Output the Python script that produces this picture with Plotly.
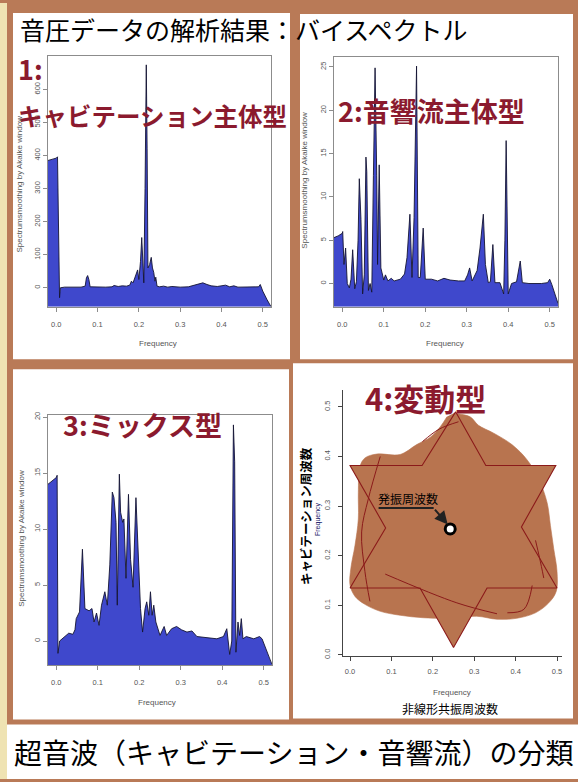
import plotly.graph_objects as go

W, H = 578, 782

# ---------------- data ----------------
freq1 = [-0.020, -0.010, 0.000, 0.003, 0.005, 0.006, 0.008, 0.010, 0.020, 0.060, 0.070, 0.073, 0.076,
         0.079, 0.082, 0.120, 0.135, 0.140, 0.150, 0.160, 0.170, 0.178, 0.182, 0.186, 0.190, 0.194,
         0.197, 0.200, 0.204, 0.207, 0.210, 0.212, 0.215, 0.218, 0.220, 0.222, 0.226, 0.230, 0.233,
         0.236, 0.239, 0.241, 0.244, 0.250, 0.260, 0.270, 0.280, 0.300, 0.320, 0.335, 0.345, 0.355,
         0.365, 0.375, 0.390, 0.410, 0.420, 0.430, 0.440, 0.470, 0.490, 0.494, 0.500, 0.510, 0.520]
spec1 = [385, 388, 392, 396, 150, 20, -30, 0, 2, 2, 5, 30, 37,
         25, 3, 2, 3, 7, 4, 6, 5, 8, 20, 15, 30, 45,
         54, 25, 80, 152, 60, 15, 300, 674, 420, 60, 70, 92, 60,
         47, 20, 32, 5, 3, 5, 2, 4, 2, 3, 8, 12, 15,
         10, 6, 4, 8, 3, 6, 2, 2, 3, 10, -10, -35, -57]

freq2 = [-0.020, -0.010, 0.000, 0.001, 0.004, 0.008, 0.012, 0.017, 0.021, 0.025, 0.030, 0.034, 0.038,
         0.041, 0.045, 0.049, 0.053, 0.057, 0.059, 0.063, 0.067, 0.071, 0.075, 0.079, 0.083, 0.085,
         0.089, 0.093, 0.100, 0.104, 0.110, 0.118, 0.125, 0.140, 0.150, 0.156, 0.163, 0.168, 0.173,
         0.179, 0.183, 0.188, 0.195, 0.200, 0.215, 0.230, 0.245, 0.260, 0.280, 0.295, 0.302, 0.307,
         0.313, 0.325, 0.332, 0.340, 0.345, 0.352, 0.357, 0.363, 0.368, 0.380, 0.389, 0.392, 0.395,
         0.400, 0.408, 0.420, 0.429, 0.434, 0.450, 0.480, 0.495, 0.500, 0.505, 0.520]
spec2 = [5.3, 5.5, 5.8, 6.0, 2.2, 4.1, 0.0, -0.5, 0.5, 3.9, -0.6, 0.2, 5.0,
         12.1, 7.4, -1.2, 1.0, 14.6, 12.9, -0.8, 0.0, -1.0, 12.5, 24.9, 12.5, 2.2,
         13.7, 1.8, 0.4, 1.0, 0.3, 0.6, 0.3, 0.5, 1.1, 3.0, 8.0, 0.7, 7.6,
         25.1, 0.7, 0.7, 6.4, 0.5, 0.5, 0.3, 0.6, 0.4, 0.3, 0.3, 1.0, 1.8,
         0.3, 1.5, 4.1, 8.0, 2.2, 0.1, 0.2, 4.5, 0.1, 0.1, -1.2, 5.0, 16.5,
         -1.2, 0.0, 0.2, 2.6, 0.1, 0.0, 0.0, 0.1, 0.5, -0.1, -2.3]

freq3 = [-0.020, -0.010, 0.000, 0.002, 0.003, 0.004, 0.008, 0.020, 0.030, 0.040, 0.045, 0.048, 0.056,
         0.063, 0.069, 0.074, 0.079, 0.086, 0.091, 0.097, 0.103, 0.109, 0.117, 0.123, 0.129, 0.135,
         0.139, 0.144, 0.147, 0.152, 0.155, 0.160, 0.163, 0.168, 0.174, 0.179, 0.185, 0.192, 0.196,
         0.199, 0.203, 0.208, 0.214, 0.218, 0.223, 0.227, 0.231, 0.235, 0.240, 0.250, 0.260, 0.266,
         0.278, 0.290, 0.302, 0.315, 0.327, 0.339, 0.363, 0.387, 0.403, 0.411, 0.418, 0.423, 0.427,
         0.430, 0.433, 0.438, 0.442, 0.446, 0.450, 0.458, 0.476, 0.490, 0.496, 0.520]
spec3 = [14.0, 14.3, 14.6, 14.8, 5.0, -1.1, 0.0, 0.4, 0.7, 0.6, 1.0, 2.0, 2.6,
         8.2, 2.9, 2.8, 2.7, 2.9, 1.7, 2.5, 1.4, 3.2, 4.4, 3.2, 6.8, 13.3,
         12.8, 10.6, 3.2, 14.9, 11.5, 10.6, 10.9, 5.6, 13.1, 7.3, 4.8, 12.8, 8.5,
         6.5, 2.9, 0.8, 2.9, 3.5, 2.3, 4.4, 2.3, 3.2, 1.7, 0.5, 1.3, 0.5,
         1.1, 1.3, 1.0, 0.8, 0.9, 0.4, 0.3, 0.2, 0.4, 1.1, -1.2, 0.0, 19.3,
         16.0, -1.0, 1.7, 0.5, 2.0, 0.2, 0.4, 0.2, 0.4, 0.2, -2.1]

freq_ticks = [0, 0.1, 0.2, 0.3, 0.4, 0.5]
ytick1 = [0, 100, 200, 300, 400, 500, 600]
ytick2 = [0, 5, 10, 15, 20, 25]
ytick3 = [0, 5, 10, 15, 20]
ytick4 = [0, 0.1, 0.2, 0.3, 0.4, 0.5]

# panel 4 : variation type (nonlinear resonance freq vs cavitation freq)
blob_x = [0.250, 0.290, 0.310, 0.347, 0.391, 0.427, 0.456, 0.476, 0.484, 0.492, 0.500, 0.498, 0.480,
          0.448, 0.403, 0.355, 0.306, 0.242, 0.177, 0.121, 0.073, 0.036, 0.012, 0.000, 0.002, 0.012,
          0.020, 0.020, 0.024, 0.036, 0.065, 0.121, 0.161, 0.194, 0.218, 0.234]
blob_y = [0.487, 0.480, 0.463, 0.447, 0.424, 0.394, 0.354, 0.307, 0.261, 0.214, 0.168, 0.128, 0.105,
          0.085, 0.074, 0.072, 0.078, 0.074, 0.075, 0.080, 0.088, 0.102, 0.118, 0.141, 0.175, 0.221,
          0.274, 0.327, 0.380, 0.397, 0.405, 0.404, 0.424, 0.439, 0.460, 0.480]
star_x = [0.255, 0.328, 0.497, 0.414, 0.500, 0.331, 0.250, 0.169, 0.000, 0.086, 0.000, 0.174, 0.255]
star_y = [0.490, 0.382, 0.382, 0.258, 0.135, 0.135, 0.015, 0.135, 0.135, 0.256, 0.382, 0.382, 0.490]
stroke_a_x = [0.085, 0.258, 0.355]
stroke_a_y = [0.163, 0.105, 0.083]
stroke_b_x = [0.073, 0.044, 0.028, 0.036, 0.048]
stroke_b_y = [0.400, 0.314, 0.248, 0.168, 0.108]
stroke_c_x = [0.448, 0.458, 0.468]
stroke_c_y = [0.231, 0.195, 0.155]
stroke_d_x = [0.175, 0.215, 0.262]
stroke_d_y = [0.430, 0.455, 0.470]
stroke_e_x = [0.380, 0.420, 0.440]
stroke_e_y = [0.085, 0.092, 0.140]
osc_x = [0.242]
osc_y = [0.254]
label_line_x = [0.069, 0.202]
label_line_y = [0.296, 0.296]

# ---------------- styling ----------------
BROWN = "#B97A57"
CREAM = "#EFE3B2"
BLUE = "#3F48CC"
CURVE = "#141432"
DARKRED = "#8B1A2E"
STAR_FILL = "#B8744F"
STAR_LINE = "#8B1A1A"
TICK_FONT = dict(family="Liberation Sans, Arial", size=7.5, color="#555555")
JP = "Noto Sans CJK JP"


def px(x):
    return x / W


def py(y):
    return 1 - y / H


R1 = dict(x=[-0.02, 0.52], y=[-57, 702])
R2 = dict(x=[-0.02, 0.52], y=[-2.67, 26.2])
R3 = dict(x=[-0.02, 0.52], y=[-2.13, 20.2])
R4 = dict(x=[-0.017, 0.512], y=[-0.002, 0.534])

fig = go.Figure()


def add_spectrum(freq, spec, yrange, xa, ya):
    ybot = yrange[0]
    fig.add_trace(go.Scatter(
        x=[freq[0]] + freq + [freq[-1]], y=[ybot] + spec + [ybot],
        fill="toself", fillcolor=BLUE, mode="lines", line=dict(width=0, color=BLUE),
        xaxis=xa, yaxis=ya, hoverinfo="skip", showlegend=False))
    fig.add_trace(go.Scatter(
        x=freq, y=spec, mode="lines", line=dict(width=0.9, color=CURVE),
        xaxis=xa, yaxis=ya, showlegend=False))


add_spectrum(freq1, spec1, R1["y"], "x", "y")
add_spectrum(freq2, spec2, R2["y"], "x2", "y2")
add_spectrum(freq3, spec3, R3["y"], "x3", "y3")

# panel 4
fig.add_trace(go.Scatter(x=blob_x, y=blob_y, fill="toself", fillcolor=STAR_FILL, mode="lines",
                         line=dict(width=0.6, color=STAR_FILL, shape="spline"), xaxis="x4", yaxis="y4",
                         showlegend=False, hoverinfo="skip"))
fig.add_trace(go.Scatter(x=star_x, y=star_y, fill="toself", fillcolor=STAR_FILL, mode="lines",
                         line=dict(width=1.1, color=STAR_LINE), xaxis="x4", yaxis="y4",
                         showlegend=False, hoverinfo="skip"))
for sx, sy in [(stroke_a_x, stroke_a_y), (stroke_b_x, stroke_b_y), (stroke_c_x, stroke_c_y),
               (stroke_d_x, stroke_d_y), (stroke_e_x, stroke_e_y)]:
    fig.add_trace(go.Scatter(x=sx, y=sy, mode="lines", line=dict(width=1, color=STAR_LINE, shape="spline"),
                             xaxis="x4", yaxis="y4", showlegend=False, hoverinfo="skip"))
fig.add_trace(go.Scatter(x=label_line_x, y=label_line_y, mode="lines", line=dict(width=2, color="#222222"),
                         xaxis="x4", yaxis="y4", showlegend=False, hoverinfo="skip"))
fig.add_trace(go.Scatter(x=osc_x, y=osc_y, mode="markers",
                         marker=dict(size=10, color="white", line=dict(width=3, color="black")),
                         xaxis="x4", yaxis="y4", showlegend=False))

# ---------------- axes ----------------
def box_axes(n, xdom, ydom, r, yt, box=True, xstand=6, ystand=0):
    sfx = "" if n == 1 else str(n)
    lc = "#8C8C8C" if box else "#444444"
    common = dict(showgrid=False, zeroline=False, showline=True, mirror=box, linecolor=lc, linewidth=1,
                  ticks="outside", ticklen=4, tickcolor=lc, tickfont=TICK_FONT)
    fig.update_layout(**{
        "xaxis" + sfx: dict(domain=xdom, range=r["x"], tickvals=freq_ticks, tickformat=".1f",
                            anchor="y" + sfx, ticklabelstandoff=xstand, **common),
        "yaxis" + sfx: dict(domain=ydom, range=r["y"], tickvals=yt, tickangle=-90,
                            tickformat=".1f" if n == 4 else "d",
                            anchor="x" + sfx, ticklabelstandoff=ystand, **common),
    })


box_axes(1, [px(48), px(271)], [py(306), py(53)], R1, ytick1)
box_axes(2, [px(334), px(558)], [py(306), py(54)], R2, ytick2)
box_axes(3, [px(48), px(272)], [py(667), py(415)], R3, ytick3)
box_axes(4, [px(343), px(562)], [py(658), py(390)], R4, ytick4, box=False, xstand=4, ystand=5)

# ---------------- background panels ----------------
shapes = [
    dict(type="rect", xref="paper", yref="paper", x0=0, x1=px(7), y0=0, y1=1,
         fillcolor=CREAM, line=dict(width=0), layer="below"),
    dict(type="rect", xref="paper", yref="paper", x0=px(13), x1=px(290), y0=py(359), y1=py(10),
         fillcolor="white", line=dict(width=0), layer="below"),
    dict(type="rect", xref="paper", yref="paper", x0=px(300), x1=px(573), y0=py(359), y1=py(11),
         fillcolor="white", line=dict(width=0), layer="below"),
    dict(type="rect", xref="paper", yref="paper", x0=px(13), x1=px(289), y0=py(722), y1=py(369),
         fillcolor="white", line=dict(width=0), layer="below"),
    dict(type="rect", xref="paper", yref="paper", x0=px(293), x1=px(573), y0=py(721), y1=py(363),
         fillcolor="white", line=dict(width=0), layer="below"),
    dict(type="rect", xref="paper", yref="paper", x0=px(7), x1=1, y0=0, y1=py(727),
         fillcolor="white", line=dict(width=0), layer="below"),
]

# ---------------- texts ----------------
def ann(text, x, y, size, color="black", family=JP, angle=0, xanchor="center", **kw):
    return dict(text=text, x=px(x), y=py(y), xref="paper", yref="paper", showarrow=False,
                font=dict(family=family, size=size, color=color), textangle=angle,
                xanchor=xanchor, yanchor="middle", **kw)


AX_FONT = "Liberation Sans, Arial"
annotations = [
    ann("音圧データの解析結果：バイスペクトル", 244, 26, 25),
    ann("超音波（キャビテーション・音響流）の分類", 293, 755, 28),
    ann("<b>1:</b>", 16, 66, 27, DARKRED, xanchor="left"),
    ann("<b>キャビテーション主体型</b>", 152, 113, 24.5, DARKRED),
    ann("<b>2:音響流主体型</b>", 336, 108, 27, DARKRED, xanchor="left"),
    ann("<b>3:ミックス型</b>", 61, 425, 27, DARKRED, xanchor="left"),
    ann("<b>4:変動型</b>", 363, 398, 31, DARKRED, xanchor="left"),
    ann("Spectrumsmoothing by Akaike window", 20, 183, 8, "#555555", AX_FONT, -90),
    ann("Spectrumsmoothing by Akaike window", 305, 179, 8, "#555555", AX_FONT, -90),
    ann("Spectrumsmoothing by Akaike window", 22, 540, 8, "#555555", AX_FONT, -90),
    ann("Frequency", 158, 343, 8, "#555555", AX_FONT),
    ann("Frequency", 445, 343, 8, "#555555", AX_FONT),
    ann("Frequency", 157, 705, 8, "#555555", AX_FONT),
    ann("Frequency", 452, 695, 8, "#555555", AX_FONT),
    ann("非線形共振周波数", 450, 711, 12),
    ann("<b>キャビテーション周波数</b>", 305, 517, 12.5, "black", JP, -90),
    ann("Frequency", 318, 520, 7, "#1A1A6A", AX_FONT, -90),
    dict(text="発振周波数", x=0.139, y=0.316, xref="x4", yref="y4", showarrow=False,
         font=dict(family=JP, size=12, color="black")),
    dict(text="", x=0.236, y=0.263, ax=0.202, ay=0.296, xref="x4", yref="y4", axref="x4", ayref="y4",
         showarrow=True, arrowhead=2, arrowsize=1.3, arrowwidth=2, arrowcolor="#222222"),
]

fig.update_layout(
    width=W, height=H, margin=dict(l=0, r=0, t=0, b=0),
    paper_bgcolor=BROWN, plot_bgcolor="rgba(0,0,0,0)",
    shapes=shapes, annotations=annotations, showlegend=False,
)

fig.write_html("out.html", config={"displayModeBar": False},
               post_script="document.body.style.margin='0';document.body.style.padding='0';")
